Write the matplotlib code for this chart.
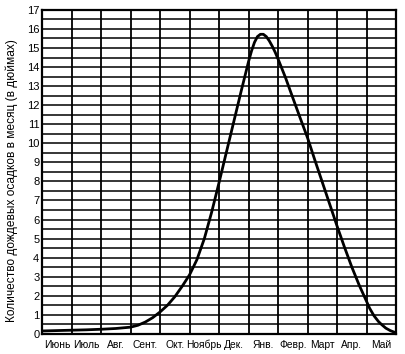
import numpy as np
import matplotlib
matplotlib.use('Agg')
import matplotlib.pyplot as plt

plt.rcParams['font.family'] = ['Liberation Sans', 'DejaVu Sans']

months = ['Июнь', 'Июль', 'Авг.', 'Сент.', 'Окт.', 'Ноябрь', 'Дек.',
          'Янв.', 'Февр.', 'Март', 'Апр.', 'Май']

# curve (x in months from the left edge, y in inches)
month_pos = [0, 0.5, 1, 1.5, 2, 2.5, 3, 3.25, 3.5, 3.75, 4, 4.25, 4.5, 4.75,
             5, 5.25, 5.5, 5.75, 6, 6.25, 6.5, 6.75, 7, 7.1, 7.2, 7.3, 7.4,
             7.5, 7.6, 7.7, 7.8, 7.9, 8, 8.25, 8.5, 8.75, 9, 9.25, 9.5, 9.75,
             10, 10.25, 10.5, 10.75, 11, 11.1, 11.25, 11.4, 11.5, 11.65, 11.8,
             12]
rain = [0.15, 0.17, 0.19, 0.21, 0.24, 0.28, 0.35, 0.45, 0.62, 0.85, 1.15,
        1.5, 1.95, 2.5, 3.1, 3.9, 5.0, 6.4, 7.95, 9.55, 11.15, 12.75, 14.3,
        14.85, 15.3, 15.6, 15.72, 15.72, 15.6, 15.38, 15.1, 14.78, 14.42,
        13.45, 12.38, 11.32, 10.28, 9.1, 7.95, 6.8, 5.65, 4.55, 3.5, 2.55,
        1.7, 1.35, 0.95, 0.65, 0.5, 0.3, 0.17, 0.05]

fig = plt.figure(figsize=(4.05, 3.54), dpi=100)
ax = fig.add_axes([0.104, 0.057, 0.874, 0.915])

ax.plot(month_pos, rain, color='black', lw=2.0, solid_capstyle='round',
        solid_joinstyle='round', zorder=3)

ax.set_xlim(0, 12)
ax.set_ylim(0, 17)

# grid: half-inch rows, one column per month
for v in np.arange(0.5, 17, 0.5):
    ax.axhline(v, color='black', lw=1.1, zorder=1)
for m in range(1, 12):
    ax.axvline(m, color='black', lw=1.3, zorder=1)

ax.set_yticks(range(0, 18))
ax.set_yticklabels([str(i) for i in range(0, 18)], fontsize=8)
ax.set_xticks(np.arange(0.5, 12, 1))
ax.set_xticklabels(months, fontsize=7.4)
for lab in ax.get_xticklabels():
    lab.set_verticalalignment('baseline')
ax.tick_params(axis='y', length=0, pad=2)
ax.tick_params(axis='x', length=0, pad=10)

for s in ax.spines.values():
    s.set_linewidth(1.6)

fig.text(0.028, 0.49, 'Количество дождевых осадков в месяц (в дюймах)',
         rotation=90, ha='center', va='center', fontsize=8.6)

fig.savefig('out.png', dpi=100)
